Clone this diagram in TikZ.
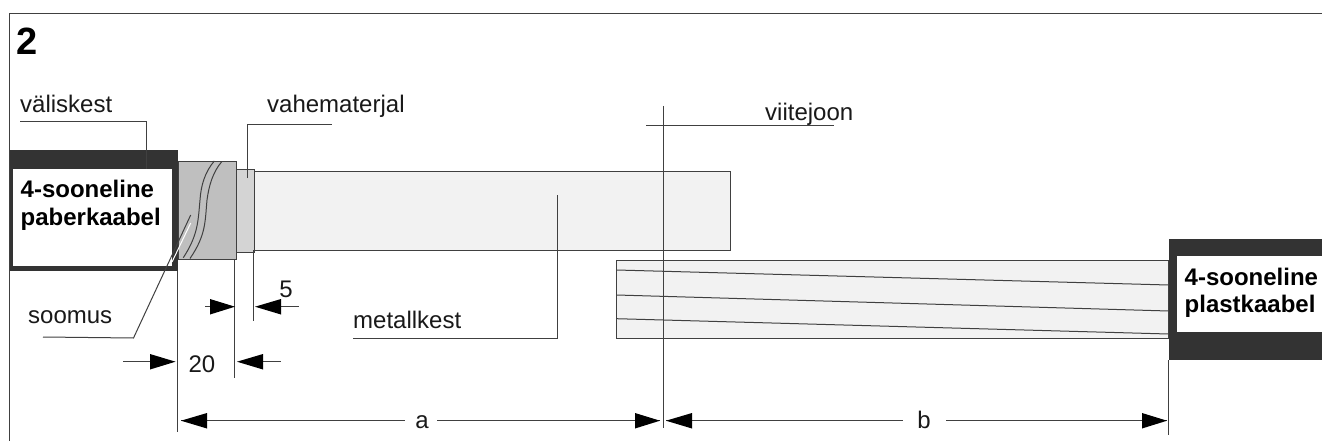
\documentclass[tikz,border=0pt]{standalone}
\usepackage{fontspec}
\setmainfont{Liberation Sans}
\tikzset{
  thin line/.style={draw=black!75,line width=1pt},
  dark/.style={fill=black!80,draw=none},
  label/.style={inner sep=0pt,anchor=base west,font=\fontsize{24}{28}\selectfont,text=black!90},
  boldlabel/.style={inner sep=0pt,anchor=base west,font=\fontsize{24}{28}\selectfont\bfseries},
  tipshape/.style={fill=black,draw=none}
}
\begin{document}
\begin{tikzpicture}[x=1pt,y=-1pt]
\useasboundingbox (0,0) rectangle (1322,441);
\fill[white] (0,0) rectangle (1322,441);
% frame
\draw[thin line] (9,441) -- (9,13.5) -- (1322,13.5);
\node[inner sep=0pt,anchor=base west,font=\fontsize{38}{42}\selectfont\bfseries] (num) at (16.5,55) {2};
% cable left
\path[dark] (10,150) rectangle (178,271);
\fill[white] (13,169) rectangle (172,266);
\filldraw[fill=black!25,draw=black!75,line width=1pt] (178,161) rectangle (236,259.5);
\filldraw[fill=black!17,draw=black!75,line width=1pt] (236,169) rectangle (254,252);
\filldraw[fill=black!5,draw=black!75,line width=1pt] (254,171) rectangle (730,250);
\draw[thin line] (221.7,161.7) .. controls (213,172) and (209,185) .. (207,200) .. controls (205,222) and (206,235) .. (190,258.5);
\draw[thin line] (214.3,161) .. controls (205,172) and (201,185) .. (200,200) .. controls (198,222) and (198,235) .. (183.3,257.7);
% cable right
\filldraw[fill=black!5,draw=black!75,line width=1pt] (616.5,260) rectangle (1168.5,338);
\draw[thin line] (616.5,270) -- (1168.5,285);
\draw[thin line] (616.5,295) -- (1168.5,311);
\draw[thin line] (616.5,318.7) -- (1168.5,334);
\path[dark] (1168.5,239) rectangle (1322,360);
\fill[white] (1177,256) rectangle (1322,332);
% texts
\node[boldlabel] (a1) at (20.5,197) {4-sooneline};
\node[boldlabel] (a2) at (20.5,225.5) {paberkaabel};
\node[boldlabel] (b1) at (1184.5,285) {4-sooneline};
\node[boldlabel] (b2) at (1184.5,312) {plastkaabel};
\node[label] (t1) at (20,113) {väliskest};
\node[label] (t2) at (267,113) {vahematerjal};
\node[label] (t3) at (765,121) {viitejoon};
\node[label] (t4) at (28,323) {soomus};
\node[label] (t5) at (353,328) {metallkest};
% leaders
\draw[thin line] (20,122) -- (146.5,122) -- (146.5,169);
\draw[thin line] (247,178) -- (247,125) -- (332,125);
\draw[white,line width=1pt] (190.7,223) -- (172,262);
\draw[thin line] (190.7,215) -- (133.5,338) -- (43,337);
\draw[thin line] (646,126) -- (834,126);
\draw[thin line] (557,195) -- (557,338) -- (353,338);
% extension lines
\draw[thin line] (663,106) -- (663,428);
\draw[thin line] (1168.5,360) -- (1168.5,435);
\draw[thin line] (177.5,271) -- (177.5,432);
\draw[thin line] (234.5,260) -- (234.5,378);
\draw[thin line] (253.3,250) -- (253.3,320.5);
% dimension 5
\draw[thin line] (205,306.7) -- (232,306.7);
\draw[thin line] (257,306.7) -- (299,306.7);
\fill[tipshape] (235,306.7) -- (210,299) -- (210,314.5) -- cycle;
\fill[tipshape] (255,306.7) -- (281,299) -- (281,314.5) -- cycle;
\node[label,anchor=base] (d5) at (286,297) {5};
% dimension 20
\draw[thin line] (123,361.7) -- (172,361.7);
\draw[thin line] (240,361.7) -- (281,361.7);
\fill[tipshape] (175.5,361.7) -- (150,354) -- (150,369.5) -- cycle;
\fill[tipshape] (237,361.7) -- (263,354) -- (263,369.5) -- cycle;
\node[label,anchor=base] (d20) at (202,372) {20};
% dimension a
\draw[thin line] (181,420.7) -- (405,420.7);
\draw[thin line] (437,420.7) -- (660,420.7);
\fill[tipshape] (181,420.7) -- (207,413) -- (207,428.5) -- cycle;
\fill[tipshape] (660,420.7) -- (635,413) -- (635,428.5) -- cycle;
\node[label,anchor=base] (da) at (422,428) {a};
% dimension b
\draw[thin line] (666,420.7) -- (903,420.7);
\draw[thin line] (946,420.7) -- (1167,420.7);
\fill[tipshape] (666,420.7) -- (692,413) -- (692,428.5) -- cycle;
\fill[tipshape] (1167,420.7) -- (1142,413) -- (1142,428.5) -- cycle;
\node[label,anchor=base] (db) at (924,428) {b};
\end{tikzpicture}
\end{document}
